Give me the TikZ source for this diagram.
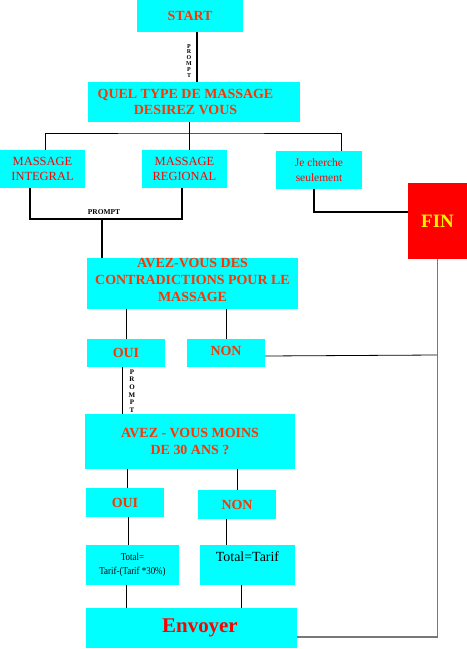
\documentclass[tikz,border=0pt]{standalone}
\usepackage{fontspec}
\setmainfont{Liberation Serif}
\usetikzlibrary{calc}
\definecolor{aqua}{RGB}{0,255,255}
\definecolor{ored}{RGB}{255,51,0}
\definecolor{lgray}{RGB}{120,120,120}
\begin{document}
\begin{tikzpicture}[x=1bp,y=-1bp,
  box/.style={fill=aqua, inner sep=0pt, align=center, text=ored,
    font=\bfseries\fontsize{14}{17}\selectfont},
  plainbox/.style={box, text=red, font=\fontsize{12.5}{15}\selectfont},
  blackbox/.style={box, text=black, font=\fontsize{14}{14}\selectfont},
  finbox/.style={fill=red, inner sep=0pt, text=yellow,
    font=\bfseries\fontsize{19}{20}\selectfont},
  promptv/.style={inner sep=0pt, align=center, text=black},
  lnthin/.style={line width=0.8bp, black},
  lnthick/.style={line width=1.6bp, black},
  lngray/.style={line width=1.2bp, lgray},
]
\useasboundingbox (0,0) rectangle (467,649);

% boxes
\node[box, minimum width=106bp, minimum height=32bp] (start) at (190,16) {START};
\node[box, minimum width=212bp, minimum height=40bp] (quel) at (194,102)
  {QUEL TYPE DE MASSAGE\hspace*{17bp}\\DESIREZ VOUS\hspace*{17bp}};
\node[plainbox, minimum width=85bp, minimum height=38bp] (integral) at (42.5,169) {MASSAGE\\INTEGRAL};
\node[plainbox, minimum width=85bp, minimum height=38bp] (regional) at (184.5,169) {MASSAGE\\REGIONAL};
\node[plainbox, minimum width=86bp, minimum height=38bp,
  font=\fontsize{11.5}{15}\selectfont] (cherche) at (319,170) {Je cherche\\seulement};
\node[finbox, minimum width=59bp, minimum height=76bp] (fin) at (437.5,221) {FIN};
\node[box, minimum width=211bp, minimum height=49bp, text depth=7bp] (contra) at (192.5,283.5)
  {AVEZ-VOUS DES\\CONTRADICTIONS POUR LE\\MASSAGE};
\node[box, minimum width=78bp, minimum height=28bp] (oui1) at (126,353) {OUI};
\node[box, minimum width=78bp, minimum height=28bp, text depth=5bp] (non1) at (226,353) {NON};
\node[box, minimum width=210bp, minimum height=55bp] (moins) at (190,441.5)
  {AVEZ - VOUS MOINS\\DE 30 ANS ?};
\node[box, minimum width=78bp, minimum height=29bp] (oui2) at (125,502.5) {OUI};
\node[box, minimum width=78bp, minimum height=29bp] (non2) at (237,504.5) {NON};
\node[blackbox, minimum width=93bp, minimum height=40bp,
  font=\fontsize{10.5}{14}\selectfont] (total1) at (132.5,565)
  {\scalebox{0.85}[1]{Total=}\\\scalebox{0.85}[1]{Tarif-(Tarif *30\%)}};
\node[blackbox, minimum width=95bp, minimum height=40bp, text depth=16bp] (total2) at (247.5,565) {Total=Tarif};
\node[box, minimum width=211bp, minimum height=40bp, text=red,
  font=\bfseries\fontsize{21}{24}\selectfont] (envoyer) at (191.5,628) {\hspace*{17bp}Envoyer};

% PROMPT labels
\node[promptv, font=\bfseries\fontsize{6}{6}\selectfont] (p1) at (189,61) {P\\R\\O\\M\\P\\T};
\node[promptv, font=\bfseries\fontsize{7}{7.6}\selectfont] (p3) at (132,391) {P\\R\\O\\M\\P\\T};

% connectors
\draw[lnthick] ($(start.south)+(7,0)$) coordinate (s1) -- (s1 |- quel.north);

\coordinate (hub) at (189,133);
\draw[lnthin] (quel.south -| hub) -- (hub);
\draw[lnthin] ($(integral.north)+(2.5,0)$) |- (hub) -| ($(cherche.north)+(22,0)$);
\draw[lnthin] ($(regional.north)+(4.5,0)$) coordinate (r1) -- (r1 |- hub);

\coordinate (join) at (102,219);
\draw[lnthick] ($(integral.south)+(-12.5,0)$) |- (join) -| ($(regional.south)+(-2.5,0)$);
\draw[lnthick] (join) -- (join |- contra.north);
\node[inner sep=0pt, font=\bfseries\fontsize{7.5}{8}\selectfont] (p2) at (104,212) {PROMPT};

\draw[lnthick] ($(cherche.south)+(-5,0)$) |- ($(fin.west)+(0,-9)$);

\draw[lnthin] (oui1.north |- contra.south) -- (oui1.north);
\draw[lnthin] (non1.north |- contra.south) -- (non1.north);

\draw[lnthin] ($(non1.east)+(0,3)$) -- ($(non1.east -| fin.south)+(0,2)$);
\draw[lngray] (fin.south) |- ($(envoyer.east)+(0,9)$);

\draw[lnthin] ($(oui1.south)+(-4,0)$) coordinate (o1) -- (o1 |- moins.north);

\draw[lnthin] ($(oui2.north)+(2,0)$) coordinate (o2) -- (o2 |- moins.south);
\draw[lnthin] (non2.north) -- (non2.north |- moins.south);

\draw[lnthin] ($(oui2.south)+(3,0)$) coordinate (o3) -- (o3 |- total1.north);
\draw[lnthin] ($(non2.south)+(-11,0)$) coordinate (n3) -- (n3 |- total2.north);

\draw[lnthin] ($(total1.south)+(-6.5,0)$) coordinate (t1) -- (t1 |- envoyer.north);
\draw[lnthin] ($(total2.south)+(-6.5,0)$) coordinate (t2) -- (t2 |- envoyer.north);
\end{tikzpicture}
\end{document}
